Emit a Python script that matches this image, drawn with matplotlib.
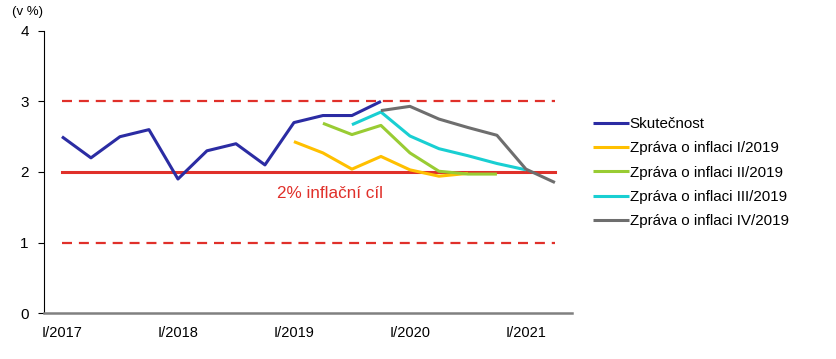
import numpy as np
import matplotlib
matplotlib.use("Agg")
import matplotlib.pyplot as plt

plt.rcParams['font.family'] = ['Liberation Sans', 'DejaVu Sans']

quarters = ["I/2017", "II/2017", "III/2017", "IV/2017",
            "I/2018", "II/2018", "III/2018", "IV/2018",
            "I/2019", "II/2019", "III/2019", "IV/2019",
            "I/2020", "II/2020", "III/2020", "IV/2020",
            "I/2021", "II/2021"]
nan = np.nan
actual = [2.5, 2.2, 2.5, 2.6, 1.9, 2.3, 2.4, 2.1, 2.7, 2.8, 2.8, 3.0,
          nan, nan, nan, nan, nan, nan]
zoi_1 = [nan] * 8 + [2.43, 2.27, 2.04, 2.22, 2.03, 1.94, 1.98, nan, nan, nan]
zoi_2 = [nan] * 9 + [2.69, 2.53, 2.66, 2.27, 2.01, 1.97, 1.97, nan, nan]
zoi_3 = [nan] * 10 + [2.67, 2.85, 2.51, 2.33, 2.23, 2.12, 2.03, nan]
zoi_4 = [nan] * 11 + [2.87, 2.93, 2.75, 2.63, 2.52, 2.04, 1.85]
target = 2.0
band_low, band_high = 1.0, 3.0

series = [
    ("Skutečnost", actual, "#2b2ca3"),
    ("Zpráva o inflaci I/2019", zoi_1, "#ffc000"),
    ("Zpráva o inflaci II/2019", zoi_2, "#99cc33"),
    ("Zpráva o inflaci III/2019", zoi_3, "#19cfd2"),
    ("Zpráva o inflaci IV/2019", zoi_4, "#6e6e6e"),
]

fig = plt.figure(figsize=(8.36, 3.59), dpi=100)
ax = fig.add_axes([0.0526, 0.128, 0.632, 0.786])
x = np.arange(len(quarters))
red = "#e0302a"
ax.plot([x[0], x[-1]], [target, target], color=red, lw=2.2, zorder=2)
ax.plot([x[0], x[-1]], [band_high, band_high], color=red, lw=1.6, dashes=(4.5, 3.1), zorder=2)
ax.plot([x[0], x[-1]], [band_low, band_low], color=red, lw=1.6, dashes=(4.5, 3.1), zorder=2)

for name, vals, col in series:
    ax.plot(x, vals, color=col, lw=2.2, label=name, zorder=3, solid_capstyle='butt')

ax.text(9.23, 1.70, "2% inflační cíl", color=red, fontsize=12.3, ha='center', va='center')

ax.set_xlim(-0.62, 17.6)
ax.set_ylim(0, 4)
ax.set_yticks([0, 1, 2, 3, 4])
ax.set_yticklabels(["0", "1", "2", "3", "4"], fontsize=11)
ax.set_xticks(x[::4])
ax.set_xticklabels(quarters[::4], fontsize=10.5)
ax.tick_params(axis='x', length=0, pad=9)
ax.tick_params(axis='y', length=4, width=0.8, direction='out', pad=7)
for s in ['top', 'right']:
    ax.spines[s].set_visible(False)
ax.spines['left'].set_color('black')
ax.spines['left'].set_linewidth(0.8)
ax.spines['bottom'].set_color('#808080')
ax.spines['bottom'].set_linewidth(1.8)

fig.text(12 / 836, 1 - 12 / 359, "(v %)", fontsize=9.5, ha='left', va='center')

leg = ax.legend(loc='upper left', bbox_to_anchor=(0.702, 0.691), bbox_transform=fig.transFigure,
                frameon=False, fontsize=10.9, handlelength=2.38, handletextpad=0.05,
                labelspacing=0.68, borderaxespad=0)

fig.savefig("out.png", dpi=100)
